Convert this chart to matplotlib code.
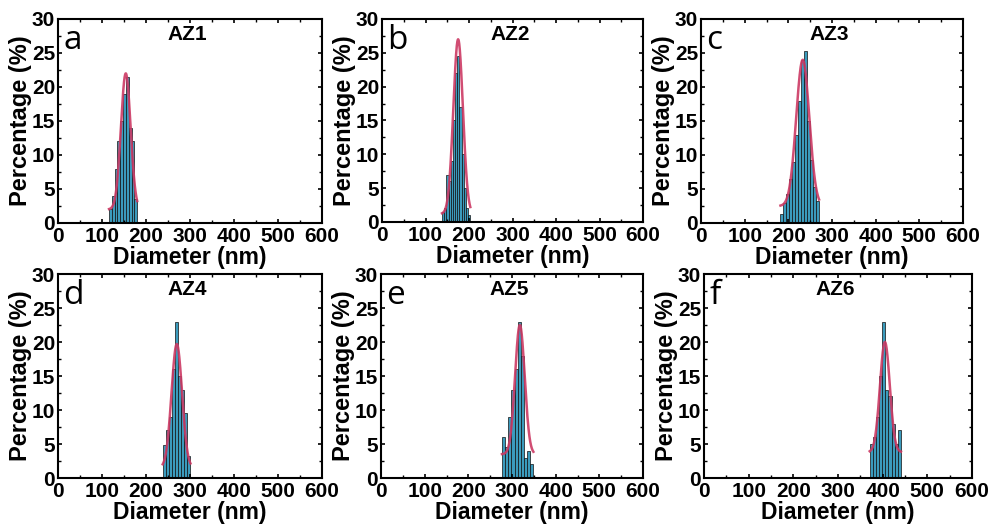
import numpy as np
import matplotlib
matplotlib.use("Agg")
import matplotlib.pyplot as plt
from matplotlib.ticker import MultipleLocator

plt.rcParams['font.family'] = ['Liberation Sans', 'DejaVu Sans']

# ---- data ----
titles = ["AZ1", "AZ2", "AZ3", "AZ4", "AZ5", "AZ6"]
letters = ["a", "b", "c", "d", "e", "f"]

bin_start = [116, 138, 182, 238, 277, 371]
bin_width = [6.4, 5.0, 6.8, 7.0, 7.2, 7.0]
h_az1 = [2, 4, 8, 12, 15, 19, 21.5, 14, 12, 3.5]
h_az2 = [1.5, 2, 7, 6, 9, 15, 22, 24.5, 17, 10, 5, 2, 1]
h_az3 = [1.3, 2.9, 4.3, 6.4, 8.9, 13, 18, 24, 25.3, 15, 9.3, 5.3, 3.2]
h_az4 = [4.8, 7, 9, 16, 23, 15, 13, 9.5, 3.3]
h_az5 = [6, 4.5, 9, 13, 16, 23, 18, 3, 4, 2]
h_az6 = [5, 6, 9, 15, 23, 13, 12, 8, 5, 7]
heights = [h_az1, h_az2, h_az3, h_az4, h_az5, h_az6]

# Gaussian fit parameters (baseline y0, amplitude, centre, sigma)
fit_y0 = [2.0, 1.2, 2.5, 1.5, 3.5, 3.8]
fit_amp = [20.0, 25.8, 21.5, 18.2, 19.0, 16.2]
fit_xc = [154, 175, 233, 270, 318, 405]
fit_sigma = [11, 11, 15, 12, 11, 11]

x_ticks = [0, 100, 200, 300, 400, 500, 600]
y_ticks = [0, 5, 10, 15, 20, 25, 30]

W, H = 992, 526
fig = plt.figure(figsize=(W / 100, H / 100), dpi=100)

# axes boxes in pixels: (left, right, top, bottom)
boxes = [
    (58, 322, 19, 223), (382, 643, 19, 222), (701, 963, 19, 223),
    (58, 322, 274, 478), (381, 643, 274, 478), (704, 972, 274, 478),
]

bar_color = '#3b9bbd'
fit_color = '#cc3a64'

for i in range(6):
    l, r, t, b = boxes[i]
    ax = fig.add_axes([l / W, 1 - b / H, (r - l) / W, (b - t) / H])
    h = np.array(heights[i])
    lefts = bin_start[i] + bin_width[i] * np.arange(len(h))
    ax.bar(lefts, h, width=bin_width[i], align='edge', color=bar_color,
           edgecolor='#111111', linewidth=0.5)
    xs = np.linspace(lefts[0], lefts[-1] + bin_width[i], 200)
    ys = fit_y0[i] + fit_amp[i] * np.exp(-(xs - fit_xc[i]) ** 2 / (2 * fit_sigma[i] ** 2))
    ax.plot(xs, ys, color=fit_color, lw=1.8, alpha=0.9)

    ax.set_xlim(0, 600)
    ax.set_ylim(0, 30)
    ax.set_xticks(x_ticks)
    ax.set_yticks(y_ticks)
    ax.xaxis.set_minor_locator(MultipleLocator(50))
    ax.yaxis.set_minor_locator(MultipleLocator(2.5))
    ax.tick_params(which='both', direction='in', top=True, right=True)
    ax.tick_params(which='major', length=3, width=1.2, labelsize=15)
    ax.tick_params(axis='x', which='major', pad=3)
    ax.tick_params(axis='y', which='major', pad=2)
    ax.tick_params(which='minor', length=2, width=1.0)
    for lab in ax.get_xticklabels() + ax.get_yticklabels():
        lab.set_fontweight('bold')
    for sp in ax.spines.values():
        sp.set_linewidth(1.5)
    ax.set_xlabel("Diameter (nm)", fontsize=16.5, fontweight='bold', labelpad=0)
    ax.set_ylabel("Percentage (%)", fontsize=17, fontweight='bold', labelpad=0)
    ax.text(0.49, 0.925, titles[i], transform=ax.transAxes, ha='center', va='center',
            fontsize=15, fontweight='bold')
    ax.text(0.02, 0.975, letters[i], transform=ax.transAxes, ha='left', va='top',
            fontsize=24, family=['Open Sans', 'DejaVu Sans'])

fig.savefig("out.png", dpi=100)
